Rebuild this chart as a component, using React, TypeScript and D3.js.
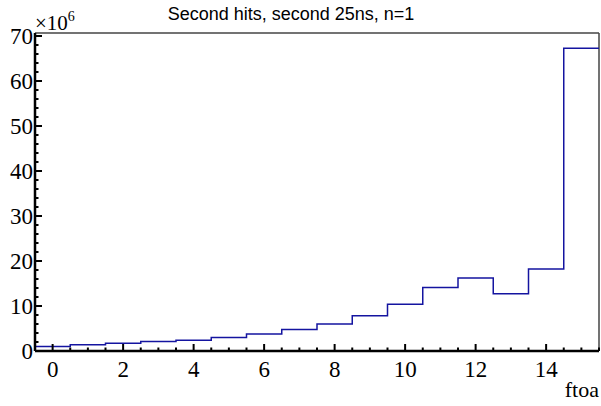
import React from "react";
import * as d3 from "d3";

const binCenters = [0, 1, 2, 3, 4, 5, 6, 7, 8, 9, 10, 11, 12, 13, 14, 15];
const binValues = [1.0, 1.4, 1.7, 2.1, 2.4, 3.0, 3.8, 4.8, 6.0, 7.85, 10.4, 14.1, 16.2, 12.7, 18.2, 67.3];
const xMajorTicks = [0, 2, 4, 6, 8, 10, 12, 14];
const yMajorTicks = [0, 10, 20, 30, 40, 50, 60, 70];
const title = "Second hits, second 25ns, n=1";
const xLabel = "ftoa";

const W = 601;
const H = 406;
const L = 35, R = 599, T = 33, B = 351;

const serifFont = "Liberation Serif, Times New Roman, DejaVu Serif, serif";
const sansFont = "Liberation Sans, Arial, sans-serif";

export default function App() {
  const x = d3.scaleLinear().domain([-0.5, 15.5]).range([L, R]);
  const yMax = d3.max(binValues)! * 1.05;
  const y = d3.scaleLinear().domain([0, yMax]).range([B, T]);

  const pts: [number, number][] = [];
  binCenters.forEach((c, i) => {
    pts.push([x(c - 0.5), y(binValues[i])]);
    pts.push([x(c + 0.5), y(binValues[i])]);
  });
  const path = d3.line()(pts) || "";

  const xMinor = d3.range(-0.5, 15.51, 0.5).filter((v) => !xMajorTicks.includes(v));
  const yMinor = d3.range(0, yMax, 2).filter((v) => v % 10 !== 0);

  return (
    <svg width={W} height={H} style={{ position: "fixed", left: 0, top: 0, background: "#fff" }}>
      <rect x={0} y={0} width={W} height={H} fill="#fff" />
      <text x={291} y={20} textAnchor="middle" fontFamily={sansFont} fontSize={18} fill="#000">
        {title}
      </text>
      <line x1={L} x2={R} y1={T} y2={T} stroke="#444" strokeWidth={1.5} />
      <line x1={R} x2={R} y1={T} y2={B} stroke="#444" strokeWidth={1.5} />
      <path d={path} fill="none" stroke="#1414a0" strokeWidth={1.5} />
      <line x1={L} x2={R} y1={B} y2={B} stroke="#000" strokeWidth={2.5} />
      <line x1={L} x2={L} y1={T} y2={B} stroke="#000" strokeWidth={2.5} />
      {xMajorTicks.map((v) => (
        <g key={"xm" + v}>
          <line x1={x(v)} x2={x(v)} y1={B} y2={B - 7} stroke="#000" strokeWidth={2} />
          <text x={x(v)} y={377} textAnchor="middle" fontFamily={serifFont} fontSize={23} fill="#000">
            {v}
          </text>
        </g>
      ))}
      {xMinor.map((v) => (
        <line key={"xn" + v} x1={x(v)} x2={x(v)} y1={B} y2={B - 3.5} stroke="#000" strokeWidth={2} />
      ))}
      {yMajorTicks.map((v) => (
        <g key={"ym" + v}>
          <line x1={L} x2={L + 7} y1={y(v)} y2={y(v)} stroke="#000" strokeWidth={2} />
          <text x={33} y={y(v) + 8} textAnchor="end" fontFamily={serifFont} fontSize={23} fill="#000">
            {v}
          </text>
        </g>
      ))}
      {yMinor.map((v) => (
        <line key={"yn" + v} x1={L} x2={L + 3.5} y1={y(v)} y2={y(v)} stroke="#000" strokeWidth={2} />
      ))}
      <text x={35} y={30} fontFamily={serifFont} fontSize={21} fill="#000">
        ×10
        <tspan fontSize={14} dy={-9}>6</tspan>
      </text>
      <text x={599} y={397} textAnchor="end" fontFamily={serifFont} fontSize={22} fill="#000">
        {xLabel}
      </text>
    </svg>
  );
}
